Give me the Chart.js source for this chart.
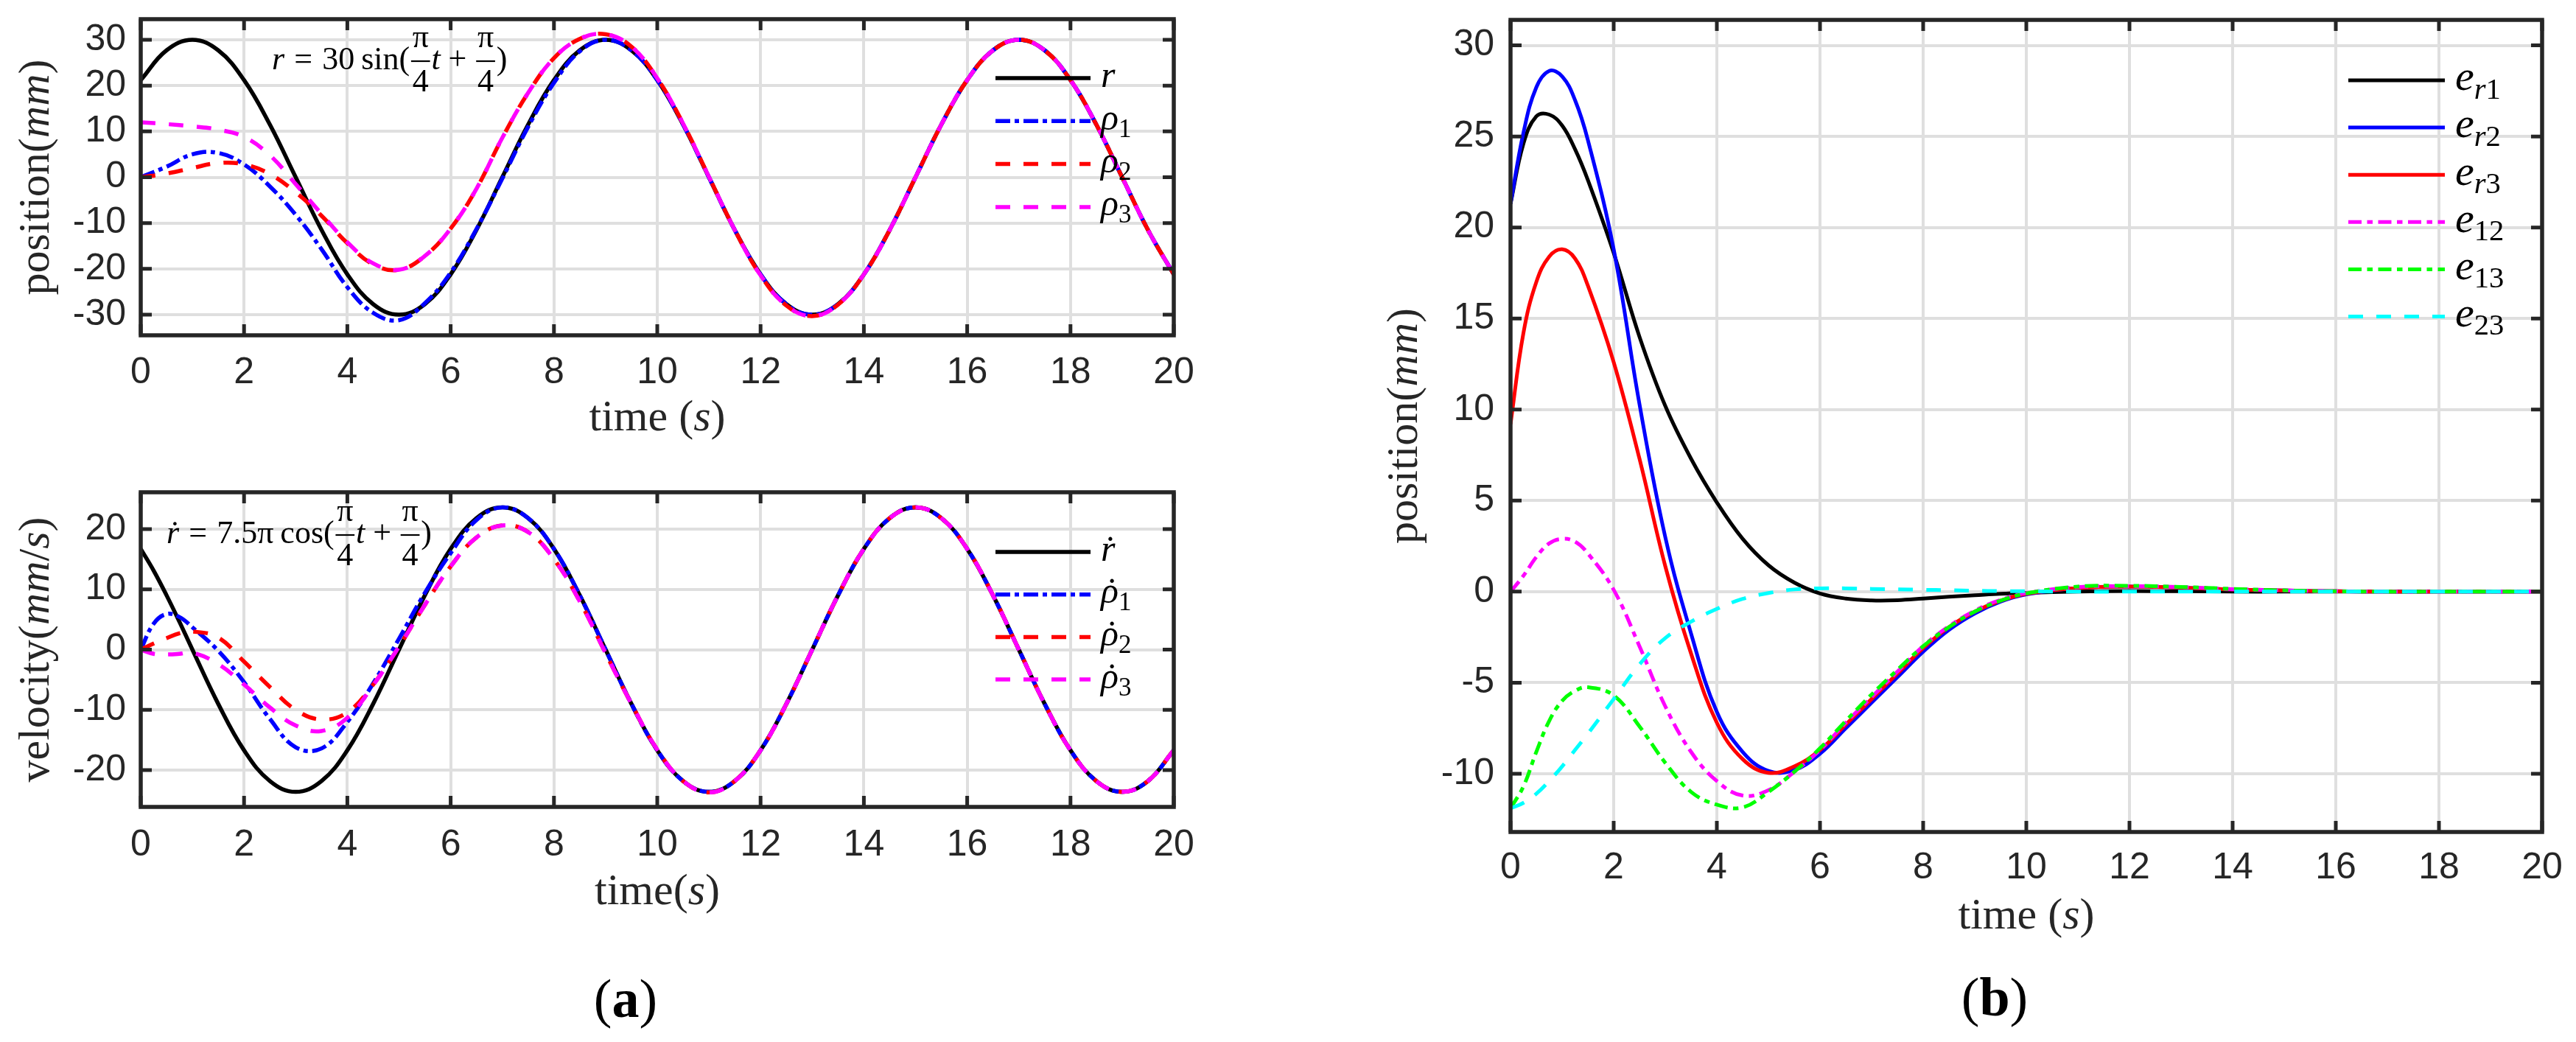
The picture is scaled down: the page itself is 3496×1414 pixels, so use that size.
<!DOCTYPE html>
<html>
<head>
<meta charset="utf-8">
<script src="https://cdn.jsdelivr.net/npm/chart.js@4.4.1/dist/chart.umd.min.js"></script>
<style>
  body { margin: 0; background: #fff; }
  #wrap { position: relative; width: 3496px; height: 1414px; background: #fff; }
  canvas { position: absolute; }
</style>
</head>
<body>
<div id="wrap">
  <canvas id="posChart" width="1700" height="640" style="left:0;top:0;width:1700px;height:640px"></canvas>
  <canvas id="velChart" width="1700" height="774" style="left:0;top:640px;width:1700px;height:774px"></canvas>
  <canvas id="errChart" width="1796" height="1414" style="left:1700px;top:0;width:1796px;height:1414px"></canvas>
</div>
<script>
// ---- data ----
const xTicks = [0, 2, 4, 6, 8, 10, 12, 14, 16, 18, 20];
const posTicks = [-30, -20, -10, 0, 10, 20, 30];
const velTicks = [-20, -10, 0, 10, 20];
const errTicks = [-10, -5, 0, 5, 10, 15, 20, 25, 30];

// (a) position, t every 0.5 s
const tPos = [0, 0.5, 1, 1.5, 2, 2.5, 3, 3.5, 4, 4.5, 5, 5.5, 6, 6.5, 7, 7.5, 8, 8.5, 9, 9.5, 10,
  10.5, 11, 11.5, 12, 12.5, 13, 13.5, 14, 14.5, 15, 15.5, 16, 16.5, 17, 17.5, 18, 18.5, 19, 19.5, 20];
const rPos = [21.2, 27.7, 30, 27.7, 21.2, 11.5, 0, -11.5, -21.2, -27.7, -30, -27.7, -21.2, -11.5, 0, 11.5, 21.2, 27.7, 30, 27.7, 21.2,
  11.5, 0, -11.5, -21.2, -27.7, -30, -27.7, -21.2, -11.5, 0, 11.5, 21.2, 27.7, 30, 27.7, 21.2, 11.5, 0, -11.5, -21.2];
const rho1Pos = [0, 2.3, 5.0, 5.3, 2.8, -2.0, -8.2, -15.7, -24.0, -29.6, -31.2, -27.5, -20.8, -11.3, -0.3, 11.0, 20.6, 27.5, 30, 27.7, 21.2,
  11.5, 0, -11.5, -21.2, -27.7, -30, -27.7, -21.2, -11.5, 0, 11.5, 21.2, 27.7, 30, 27.7, 21.2, 11.5, 0, -11.5, -21.2];
const rho2Pos = [0, 0.8, 2.0, 3.1, 2.8, 0.7, -3.3, -8.4, -14.4, -19.0, -20.2, -17.2, -11.2, -2.5, 8.6, 18.4, 26.0, 30.2, 31.2, 28.5, 21.6,
  11.7, 0.1, -11.5, -21.4, -28.0, -30.3, -27.8, -21.2, -11.5, 0, 11.5, 21.2, 27.7, 30, 27.7, 21.2, 11.5, 0, -11.5, -21.2];
const rho3Pos = [12.0, 11.6, 11.1, 10.4, 8.8, 4.8, -1.5, -8.0, -14.2, -18.8, -20.2, -17.2, -11.2, -2.5, 8.6, 18.4, 26.0, 30.2, 31.2, 28.5, 21.6,
  11.7, 0.1, -11.5, -21.4, -28.0, -30.3, -27.8, -21.2, -11.5, 0, 11.5, 21.2, 27.7, 30, 27.7, 21.2, 11.5, 0, -11.5, -21.2];

// (a) velocity
const tVel = [0, 0.25, 0.5, 0.75, 1, 1.5, 2, 2.5, 3, 3.5, 4, 4.5, 5, 5.5, 6, 6.5, 7, 7.5, 8, 8.5, 9, 9.5, 10,
  10.5, 11, 11.5, 12, 12.5, 13, 13.5, 14, 14.5, 15, 15.5, 16, 16.5, 17, 17.5, 18, 18.5, 19, 19.5, 20];
const rVel = [16.7, 13.1, 9.0, 4.6, 0, -9.0, -16.7, -21.8, -23.6, -21.8, -16.7, -9.0, 0, 9.0, 16.7, 21.8, 23.6, 21.8, 16.7, 9.0, 0, -9.0, -16.7,
  -21.8, -23.6, -21.8, -16.7, -9.0, 0, 9.0, 16.7, 21.8, 23.6, 21.8, 16.7, 9.0, 0, -9.0, -16.7, -21.8, -23.6, -21.8, -16.7];
const rho1Vel = [0, 4.3, 5.9, 5.4, 3.7, -0.2, -5.4, -11.5, -16.2, -16.4, -12.0, -5.6, 1.8, 9.4, 16.0, 21.5, 23.6, 21.8, 16.7, 9.0, 0, -9.0, -16.7,
  -21.8, -23.6, -21.8, -16.7, -9.0, 0, 9.0, 16.7, 21.8, 23.6, 21.8, 16.7, 9.0, 0, -9.0, -16.7, -21.8, -23.6, -21.8, -16.7];
const rho2Vel = [0, 1.0, 1.9, 2.7, 3.0, 2.0, -2.0, -6.2, -10.0, -11.6, -10.4, -5.8, 0.5, 7.4, 13.8, 18.6, 20.6, 19.5, 15.0, 8.0, -0.6, -9.0, -16.6,
  -21.8, -23.7, -21.8, -16.7, -9.0, 0, 9.0, 16.7, 21.8, 23.6, 21.8, 16.7, 9.0, 0, -9.0, -16.7, -21.8, -23.6, -21.8, -16.7];
const rho3Vel = [0, -0.7, -0.8, -0.7, -0.5, -2.4, -5.8, -9.6, -12.6, -13.5, -11.3, -5.9, 0.5, 7.4, 13.8, 18.6, 20.6, 19.5, 15.0, 8.0, -0.6, -9.0, -16.6,
  -21.8, -23.7, -21.8, -16.7, -9.0, 0, 9.0, 16.7, 21.8, 23.6, 21.8, 16.7, 9.0, 0, -9.0, -16.7, -21.8, -23.6, -21.8, -16.7];

// (b) errors
const tErr = [0, 0.25, 0.5, 0.75, 1, 1.25, 1.5, 2, 2.5, 3, 3.5, 4, 4.5, 5, 5.5, 6, 6.5, 7, 7.5, 8, 8.5, 9, 9.5, 10,
  11, 12, 13, 14, 15, 16, 17, 18, 19, 20];
const er1 = [21.3, 24.6, 26.1, 26.2, 25.6, 24.3, 22.6, 18.6, 14.0, 10.2, 7.3, 4.9, 2.9, 1.45, 0.5, -0.1, -0.38, -0.48, -0.47, -0.38, -0.28, -0.2, -0.12, -0.07,
  0, 0.03, 0.02, 0, 0, 0, 0, 0, 0, 0];
const er2 = [21.3, 25.2, 27.7, 28.6, 28.3, 27.0, 24.8, 18.8, 10.3, 3.0, -2.3, -6.6, -8.8, -9.85, -9.8, -8.9, -7.5, -6.1, -4.7, -3.3, -2.1, -1.2, -0.55, -0.15,
  0.2, 0.28, 0.22, 0.12, 0.06, 0.02, 0, 0, 0, 0];
const er3 = [9.2, 14.2, 17.0, 18.4, 18.8, 18.3, 16.8, 12.6, 7.3, 1.4, -3.4, -7.2, -9.2, -9.95, -9.6, -8.7, -7.3, -5.9, -4.5, -3.1, -1.95, -1.1, -0.5, -0.12,
  0.2, 0.28, 0.22, 0.12, 0.06, 0.02, 0, 0, 0, 0];
const e12 = [0, 0.87, 1.9, 2.65, 2.9, 2.75, 2.1, 0.1, -3.0, -6.3, -8.8, -10.4, -11.2, -10.9, -9.9, -8.7, -7.2, -5.8, -4.4, -3.0, -1.9, -1.05, -0.45, -0.08,
  0.25, 0.3, 0.25, 0.14, 0.07, 0.02, 0, 0, 0, 0];
const e13 = [-11.9, -10.7, -8.8, -7.1, -6.0, -5.45, -5.25, -5.7, -7.4, -9.4, -11.0, -11.7, -11.85, -11.0, -9.9, -8.6, -7.1, -5.65, -4.3, -3.0, -1.95, -1.1, -0.5, -0.1,
  0.28, 0.32, 0.26, 0.15, 0.07, 0.02, 0, 0, 0, 0];
const e23 = [-11.9, -11.6, -11.1, -10.4, -9.6, -8.7, -7.8, -5.9, -4.0, -2.55, -1.65, -0.95, -0.4, -0.08, 0.12, 0.18, 0.18, 0.15, 0.13, 0.1, 0.08, 0.05, 0.03, 0.02,
  0, 0, 0, 0, 0, 0, 0, 0, 0, 0];

// ---- styles ----
const AX = '#262626';
const GRID = '#dfdfdf';
const SANS = '"Liberation Sans", Arial, Helvetica, sans-serif';
const SERIF = '"Liberation Serif", "Times New Roman", serif';
const DASH = [20, 18];
const DASHDOT_A = [20, 6, 6, 6];
const DASHDOT_B = [18, 7.5, 7.5, 7.5];

const pts = (ts, ys) => ts.map((t, i) => ({ x: t, y: ys[i] }));

function line(ts, ys, color, dash, width, order) {
  return { data: pts(ts, ys), borderColor: color, borderDash: dash, borderWidth: width,
    pointRadius: 0, fill: false, tension: 0.4, order };
}

// ---- rich text (math-like labels) ----
function fontStr(p, size) {
  const s = p.sub ? size * 0.7 : size;
  return (p.it ? 'italic ' : '') + (p.b ? 'bold ' : '') + s.toFixed(1) + 'px ' + SERIF;
}
function partWidth(ctx, p, size) {
  if (p.frac) {
    ctx.font = fontStr({}, size);
    return Math.max(ctx.measureText(p.frac[0]).width, ctx.measureText(p.frac[1]).width) + size * 0.16;
  }
  ctx.font = fontStr(p, size);
  return ctx.measureText(p.t).width;
}
function richWidth(ctx, parts, size) {
  return parts.reduce((w, p) => w + (p.g || 0) * size + partWidth(ctx, p, size), 0);
}
function drawRich(ctx, parts, x, y, size, align, color) {
  let cx = align === 'center' ? x - richWidth(ctx, parts, size) / 2 : x;
  ctx.fillStyle = color;
  ctx.textBaseline = 'alphabetic';
  parts.forEach(p => {
    cx += (p.g || 0) * size;
    const w = partWidth(ctx, p, size);
    if (p.frac) {
      ctx.font = fontStr({}, size);
      ctx.textAlign = 'center';
      ctx.fillText(p.frac[0], cx + w / 2, y - 0.68 * size);
      ctx.fillText(p.frac[1], cx + w / 2, y + 0.69 * size);
      ctx.fillRect(cx + size * 0.04, y - 0.275 * size, w - size * 0.08, size * 0.05);
    } else {
      ctx.font = fontStr(p, size);
      ctx.textAlign = 'left';
      ctx.fillText(p.t, cx, p.sub ? y + 0.2 * size : y);
      if (p.dot) {
        ctx.font = fontStr({}, size);
        ctx.textAlign = 'center';
        ctx.fillText('\u02D9', cx + w / 2 + size * 0.06, y + size * 0.02);
      }
    }
    cx += w;
  });
  ctx.textAlign = 'left';
}

// ---- frame, ticks, legend and labels drawn MATLAB-style ----
function decor(cfg) {
  return {
    id: 'decor',
    afterDatasetsDraw(chart) {
      const ctx = chart.ctx;
      const { left, right, top, bottom } = chart.chartArea;
      const xs = chart.scales.x, ys = chart.scales.y;
      const TL = 15;
      ctx.save();
      ctx.setLineDash([]);
      ctx.strokeStyle = AX;
      ctx.lineWidth = 5;
      ctx.beginPath();
      xs.ticks.forEach(tk => {
        const px = xs.getPixelForValue(tk.value);
        ctx.moveTo(px, bottom); ctx.lineTo(px, bottom - TL);
        ctx.moveTo(px, top); ctx.lineTo(px, top + TL);
      });
      ys.ticks.forEach(tk => {
        const py = ys.getPixelForValue(tk.value);
        ctx.moveTo(left, py); ctx.lineTo(left + TL, py);
        ctx.moveTo(right, py); ctx.lineTo(right - TL, py);
      });
      ctx.stroke();
      ctx.lineWidth = 5.5;
      ctx.strokeRect(left, top, right - left, bottom - top);
      ctx.restore();
    },
    afterDraw(chart) {
      const ctx = chart.ctx;
      const { left, right, top, bottom } = chart.chartArea;
      const lg = cfg.legend;
      ctx.save();
      // legend
      lg.labels.forEach((parts, i) => {
        const ds = chart.data.datasets[i];
        const y = top + lg.y0 + i * lg.dy;
        ctx.setLineDash(ds.borderDash || []);
        ctx.strokeStyle = ds.borderColor;
        ctx.lineWidth = ds.borderWidth;
        ctx.beginPath();
        ctx.moveTo(right + lg.x1, y);
        ctx.lineTo(right + lg.x2, y);
        ctx.stroke();
        ctx.setLineDash([]);
        drawRich(ctx, parts, right + lg.tx, y + 0.23 * lg.size, lg.size, 'left', '#000');
      });
      // in-plot formula
      if (cfg.ann) drawRich(ctx, cfg.ann.parts, left + cfg.ann.dx, top + cfg.ann.dy, cfg.ann.size, 'left', '#000');
      // axis titles
      const mid = (left + right) / 2;
      drawRich(ctx, cfg.xLabel, mid, bottom + cfg.xLabelDy, 60, 'center', AX);
      ctx.save();
      ctx.translate(left + cfg.yLabelDx, (top + bottom) / 2);
      ctx.rotate(-Math.PI / 2);
      drawRich(ctx, cfg.yLabel, 0, 0, 60, 'center', AX);
      ctx.restore();
      if (cfg.panel) drawRich(ctx, cfg.panel, mid - 43, bottom + cfg.panelDy, 74, 'center', '#000');
      ctx.restore();
    }
  };
}

function makeChart(id, datasets, cfg) {
  const tickFont = { family: SANS, size: 50, lineHeight: 1 };
  return new Chart(document.getElementById(id), {
    type: 'line',
    data: { datasets },
    options: {
      responsive: false,
      animation: false,
      events: [],
      layout: { padding: { top: cfg.padTop, right: cfg.padRight, left: 0, bottom: 0 } },
      plugins: { legend: { display: false }, tooltip: { enabled: false } },
      scales: {
        x: {
          type: 'linear', min: 0, max: 20,
          border: { display: false },
          grid: { color: GRID, lineWidth: 4, drawTicks: false },
          ticks: { font: tickFont, color: AX, padding: cfg.xPad, maxRotation: 0, autoSkip: false, callback: v => String(v) },
          afterBuildTicks: s => { s.ticks = xTicks.map(v => ({ value: v })); },
          afterFit: s => { s.height = cfg.xHeight; s.paddingLeft = 0; s.paddingRight = 0; }
        },
        y: {
          type: 'linear', min: cfg.yMin, max: cfg.yMax,
          border: { display: false },
          grid: { color: GRID, lineWidth: 4, drawTicks: false },
          ticks: { font: tickFont, color: AX, padding: cfg.yPad, autoSkip: false, callback: v => String(v) },
          afterBuildTicks: s => { s.ticks = cfg.yTicks.map(v => ({ value: v })); },
          afterFit: s => { s.width = cfg.yWidth; s.paddingTop = 0; s.paddingBottom = 0; }
        }
      }
    },
    plugins: [decor(cfg)]
  });
}

const frac = { frac: ['\u03C0', '4'] };

// ---- (a) top: position ----
makeChart('posChart', [
  line(tPos, rPos, '#000000', [], 5.5, 4),
  line(tPos, rho1Pos, '#0000ff', DASHDOT_A, 5.5, 3),
  line(tPos, rho2Pos, '#ff0000', DASH, 5.5, 2),
  line(tPos, rho3Pos, '#ff00ff', DASH, 5.5, 1)
], {
  yTicks: posTicks, yMin: -34.5, yMax: 34.5,
  yWidth: 191, xHeight: 185, padTop: 26, padRight: 107, yPad: 20, xPad: 26,
  legend: { x1: -242, x2: -113, tx: -99, y0: 80, dy: 58.3, size: 50, labels: [
    [{ t: 'r', it: true }],
    [{ t: '\u03C1', it: true }, { t: '1', sub: true }],
    [{ t: '\u03C1', it: true }, { t: '2', sub: true }],
    [{ t: '\u03C1', it: true }, { t: '3', sub: true }]
  ] },
  ann: { dx: 178, dy: 68, size: 44, parts: [
    { t: 'r', it: true }, { t: '=', g: 0.3 }, { t: '30', g: 0.3 }, { t: 'sin(', g: 0.2 }, frac,
    { t: 't', it: true }, { t: '+', g: 0.25 }, Object.assign({ g: 0.25 }, frac), { t: ')' }
  ] },
  xLabel: [{ t: 'time (' }, { t: 's', it: true }, { t: ')' }], xLabelDy: 129,
  yLabel: [{ t: 'position(' }, { t: 'mm', it: true }, { t: ')' }], yLabelDx: -125
});

// ---- (a) bottom: velocity ----
makeChart('velChart', [
  line(tVel, rVel, '#000000', [], 5.5, 4),
  line(tVel, rho1Vel, '#0000ff', DASHDOT_A, 5.5, 3),
  line(tVel, rho2Vel, '#ff0000', DASH, 5.5, 2),
  line(tVel, rho3Vel, '#ff00ff', DASH, 5.5, 1)
], {
  yTicks: velTicks, yMin: -26.1, yMax: 26.1,
  yWidth: 191, xHeight: 319, padTop: 28, padRight: 107, yPad: 20, xPad: 27,
  legend: { x1: -242, x2: -113, tx: -99, y0: 81, dy: 57.7, size: 50, labels: [
    [{ t: 'r', it: true, dot: true }],
    [{ t: '\u03C1', it: true, dot: true }, { t: '1', sub: true }],
    [{ t: '\u03C1', it: true, dot: true }, { t: '2', sub: true }],
    [{ t: '\u03C1', it: true, dot: true }, { t: '3', sub: true }]
  ] },
  ann: { dx: 35, dy: 69, size: 44, parts: [
    { t: 'r', it: true, dot: true }, { t: '=', g: 0.3 }, { t: '7.5\u03C0', g: 0.3 }, { t: 'cos(', g: 0.2 }, frac,
    { t: 't', it: true }, { t: '+', g: 0.25 }, Object.assign({ g: 0.25 }, frac), { t: ')' }
  ] },
  xLabel: [{ t: 'time(' }, { t: 's', it: true }, { t: ')' }], xLabelDy: 132,
  yLabel: [{ t: 'velocity(' }, { t: 'mm', it: true }, { t: '/' }, { t: 's', it: true }, { t: ')' }], yLabelDx: -125,
  panel: [{ t: '(' }, { t: 'a', b: true }, { t: ')' }], panelDy: 285
});

// ---- (b) errors ----
makeChart('errChart', [
  line(tErr, er1, '#000000', [], 5, 6),
  line(tErr, er2, '#0000ff', [], 5, 5),
  line(tErr, er3, '#ff0000', [], 5, 4),
  line(tErr, e12, '#ff00ff', DASHDOT_B, 5, 3),
  line(tErr, e13, '#00ff00', DASHDOT_B, 5, 2),
  line(tErr, e23, '#00ffff', DASH, 5, 1)
], {
  yTicks: errTicks, yMin: -13.2, yMax: 31.4,
  yWidth: 350, xHeight: 285, padTop: 27, padRight: 46, yPad: 22, xPad: 24,
  legend: { x1: -263, x2: -132, tx: -118, y0: 82, dy: 64.1, size: 58, labels: [
    [{ t: 'e', it: true }, { t: 'r', it: true, sub: true }, { t: '1', sub: true }],
    [{ t: 'e', it: true }, { t: 'r', it: true, sub: true }, { t: '2', sub: true }],
    [{ t: 'e', it: true }, { t: 'r', it: true, sub: true }, { t: '3', sub: true }],
    [{ t: 'e', it: true }, { t: '12', sub: true }],
    [{ t: 'e', it: true }, { t: '13', sub: true }],
    [{ t: 'e', it: true }, { t: '23', sub: true }]
  ] },
  xLabel: [{ t: 'time (' }, { t: 's', it: true }, { t: ')' }], xLabelDy: 131,
  yLabel: [{ t: 'position(' }, { t: 'mm', it: true }, { t: ')' }], yLabelDx: -127,
  panel: [{ t: '(' }, { t: 'b', b: true }, { t: ')' }], panelDy: 249
});
</script>
</body>
</html>
